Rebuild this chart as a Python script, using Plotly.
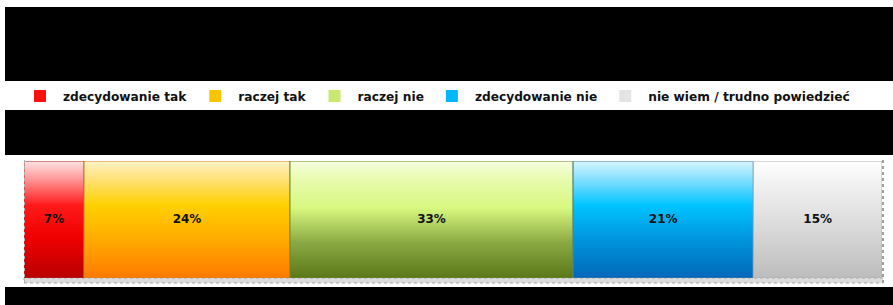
import plotly.graph_objects as go

categories = ["zdecydowanie tak", "raczej tak", "raczej nie", "zdecydowanie nie", "nie wiem / trudno powiedzieć"]
values = [7, 24, 33, 21, 15]
labels = [f"{v}%" for v in values]

mid_colors = ["#ff1010", "#ffc400", "#c8e870", "#00b8f8", "#e4e4e4"]
gradients = [
    [[0, "#b80000"], [0.35, "#f00000"], [0.62, "#ff1a1a"], [0.85, "#ff9a9a"], [1, "#ffe4e4"]],
    [[0, "#ff7a00"], [0.35, "#ffae00"], [0.62, "#ffd000"], [0.85, "#ffe27a"], [1, "#fff2c8"]],
    [[0, "#5a7818"], [0.3, "#8aa842"], [0.6, "#d8f880"], [0.85, "#e8fbb0"], [1, "#f6ffe0"]],
    [[0, "#0068b8"], [0.35, "#0098e0"], [0.62, "#00c4ff"], [0.85, "#88e0ff"], [1, "#d8f6ff"]],
    [[0, "#bcbcbc"], [0.4, "#d8d8d8"], [0.75, "#eeeeee"], [1, "#ffffff"]],
]
edge_colors = ["#b03030", "#c88a30", "#6a8a30", "#4a80a8", "#b0b0b0"]

W, H = 893, 305
L, R, T, B = 24, 882, 161, 278
PW, PH = R - L, B - T


def px2x(p):
    return (p - L) / PW


def px2y(p):
    return (B - p) / PH


fig = go.Figure()

starts = []
acc = 0
for v in values:
    starts.append(acc)
    acc += v

for cat, v, s, c in zip(categories, values, starts, mid_colors):
    fig.add_trace(go.Bar(
        y=[0], x=[v], base=[s], orientation="h", width=1,
        name=cat, marker=dict(color=c, line=dict(width=0)),
        hoverinfo="skip",
    ))

for v, s, g, ec in zip(values, starts, gradients, edge_colors):
    fig.add_trace(go.Scatter(
        x=[s, s + v, s + v, s, s], y=[-0.5, -0.5, 0.5, 0.5, -0.5],
        mode="lines", fill="toself",
        fillgradient=dict(type="vertical", colorscale=g, start=-0.5, stop=0.5),
        line=dict(color=ec, width=1),
        showlegend=False, hoverinfo="skip",
    ))

fig.add_trace(go.Scatter(
    x=[s + v / 2 for s, v in zip(starts, values)], y=[0] * len(values),
    mode="text", text=labels,
    textfont=dict(family="DejaVu Sans", size=12, color="#111111", weight="bold"),
    showlegend=False, hoverinfo="skip",
))

shapes = []
for y0p, y1p in [(7, 81), (110, 155), (287, 320)]:
    shapes.append(dict(type="rect", xref="paper", yref="paper",
                       x0=px2x(5), x1=px2x(900), y0=px2y(y1p), y1=px2y(y0p),
                       fillcolor="black", line=dict(width=0), layer="above"))
shapes.append(dict(type="rect", xref="paper", yref="paper",
                   x0=px2x(24), x1=px2x(883), y0=px2y(283), y1=px2y(278),
                   fillcolor="#dcdcdc", line=dict(color="#a8a8a8", width=1, dash="dot"), layer="below"))
shapes.append(dict(type="line", xref="paper", yref="paper",
                   x0=px2x(24.5), x1=px2x(24.5), y0=px2y(283), y1=px2y(160),
                   line=dict(color="#b0b0b0", width=1, dash="dot")))
shapes.append(dict(type="line", xref="paper", yref="paper",
                   x0=px2x(883), x1=px2x(883), y0=px2y(283), y1=px2y(160),
                   line=dict(color="#a0a0a0", width=2, dash="dot")))

fig.update_layout(
    width=W, height=H,
    margin=dict(l=L, r=W - R, t=T, b=H - B, pad=0),
    paper_bgcolor="white", plot_bgcolor="white",
    barmode="overlay",
    showlegend=True,
    legend=dict(orientation="h", x=px2x(17), xanchor="left", y=px2y(96), yanchor="middle",
                font=dict(family="DejaVu Sans", size=12.2, color="#111111", weight="bold"),
                bgcolor="rgba(0,0,0,0)", itemclick=False, itemdoubleclick=False,
                traceorder="normal", itemwidth=36),
    xaxis=dict(range=[0, sum(values)], visible=False, fixedrange=True),
    yaxis=dict(range=[-0.5, 0.5], visible=False, fixedrange=True),
    shapes=shapes,
)

fig.write_html("out.html", config={"displayModeBar": False},
               post_script="document.body.style.margin='0';document.body.style.overflow='hidden';")
